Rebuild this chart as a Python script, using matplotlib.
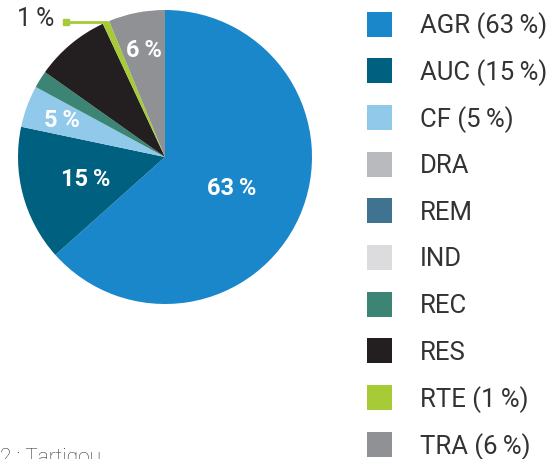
import numpy as np
import matplotlib
matplotlib.use("Agg")
import matplotlib.pyplot as plt
import matplotlib.patches as patches

categories = ["AGR", "AUC", "CF", "DRA", "REM", "IND", "REC", "RES", "RTE", "TRA"]
shares = [63.4, 14.9, 4.6, 0.0, 0.0, 0.0, 1.9, 8.25, 0.75, 6.2]
shown_pct = {"AGR": "63\u2009%", "AUC": "15\u2009%", "CF": "5\u2009%", "RTE": "1\u2009%", "TRA": "6\u2009%"}
colors = ["#1b87cb", "#00607f", "#91c9ea", "#b9babe", "#3f738f",
          "#dcdcde", "#3c8473", "#231f20", "#a6cb37", "#8f9194"]

# label radius per inner label (fraction of pie radius)
label_r = {"AGR": 0.5, "AUC": 0.56, "CF": 0.75, "TRA": 0.745}

plt.rcParams['font.family'] = ['Roboto', 'DejaVu Sans']
W, H = 555, 460
fig = plt.figure(figsize=(W / 100, H / 100), dpi=100)

cx, cy, R = 165, 158, 147
ax = fig.add_axes([(cx - R) / W, (H - cy - R) / H, 2 * R / W, 2 * R / H])
wedges, _ = ax.pie(shares, colors=colors, startangle=90, counterclock=False,
                   radius=1, wedgeprops=dict(linewidth=0))
ax.set_xlim(-1, 1)
ax.set_ylim(-1, 1)
ax.set_aspect('equal')
ax.axis('off')

for w, cat in zip(wedges, categories):
    if cat in label_r:
        ang = np.deg2rad((w.theta1 + w.theta2) / 2)
        r = label_r[cat]
        ax.text(r * np.cos(ang), r * np.sin(ang), shown_pct[cat], ha='center', va='center',
                color='white', fontsize=17, fontweight='semibold')

# outside label for the thin RTE slice
w = wedges[categories.index("RTE")]
ang = np.deg2rad((w.theta1 + w.theta2) / 2)
ex, ey = np.cos(ang), np.sin(ang)
lx = (66 - cx) / R
ax.plot([lx, ex], [ey, ey], color="#a6cb37", lw=2, clip_on=False)
ax.plot([lx], [ey], marker='s', ms=5, color="#a6cb37", clip_on=False)
ax.text(lx - 0.08, ey + 0.03, shown_pct["RTE"], ha='right', va='center',
        color='#333333', fontsize=18)

# legend
for i, cat in enumerate(categories):
    yc = 25 + i * 46.7
    fig.patches.append(patches.Rectangle((367 / W, 1 - (yc + 12.5) / H), 25 / W, 25 / H,
                                         transform=fig.transFigure, facecolor=colors[i],
                                         edgecolor='none'))
    lab = cat + (" (" + shown_pct[cat] + ")" if cat in shown_pct else "")
    fig.text(420 / W, 1 - (yc + 1) / H, lab, ha='left', va='center', fontsize=18.5,
             color='#333333')

fig.text(0, 1 - 448 / H, "2 : Tartigou", ha='left', va='top', fontsize=15,
         color='#333333', fontweight='light')

fig.savefig("out.png", dpi=100)
